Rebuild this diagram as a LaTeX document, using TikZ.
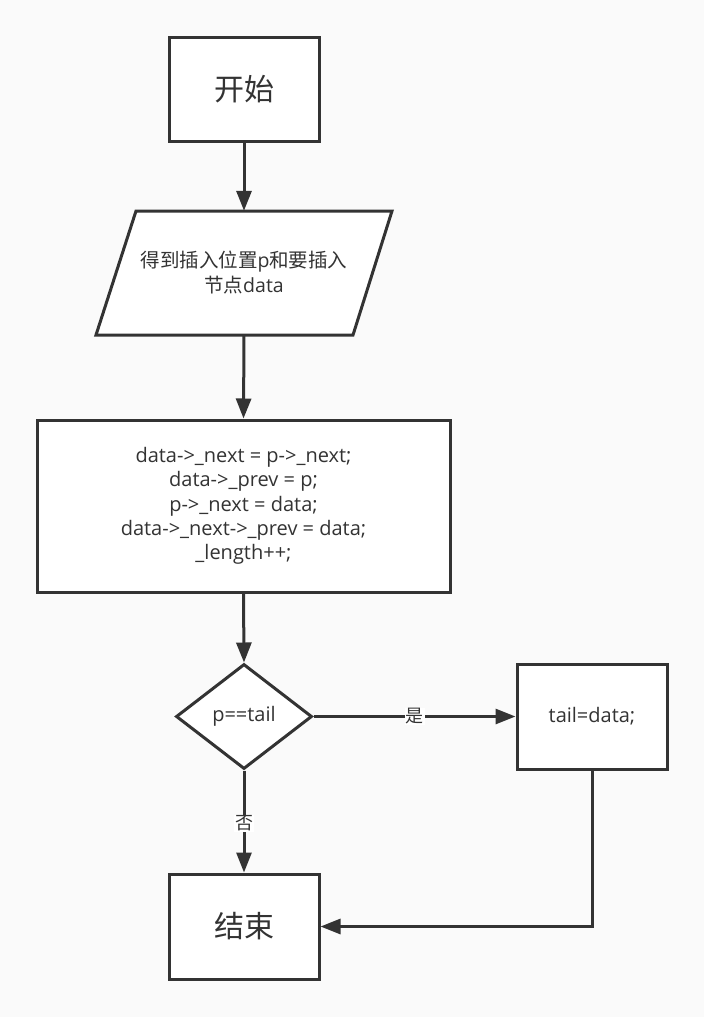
\documentclass[tikz,border=0pt]{standalone}
\usepackage{fontspec}
\setmainfont{Open Sans}
\newfontfamily\cjk{Noto Sans CJK SC}
\usetikzlibrary{arrows.meta,shapes.geometric}
\definecolor{ink}{HTML}{333333}
\definecolor{bg}{HTML}{FAFAFA}
\begin{document}
\begin{tikzpicture}[x=1pt,y=-1pt,
  box/.style={draw=ink,line width=3pt,fill=white,inner sep=0pt,text=ink,align=center,font=\fontsize{20}{24.3}\selectfont},
  bigtext/.style={font=\fontsize{30}{36}\selectfont\cjk},
  flow/.style={draw=ink,line width=3pt,-{Triangle[length=20pt,width=15pt]}},
  lbl/.style={fill=white,inner sep=1pt,text=ink,font=\fontsize{18}{20}\selectfont\cjk}]
\fill[bg] (0,0) rectangle (704,1017);
\useasboundingbox (0,0) rectangle (704,1017);
% start
\node[box,bigtext,minimum width=150pt,minimum height=104pt] (start) at (244,89) {开始};
% parallelogram
\draw[ink,line width=3pt,fill=white,line join=miter] (136,211) -- (392,211) -- (353,335) -- (96,335) -- cycle;
\node[inner sep=0pt,minimum width=257pt,minimum height=124pt,align=center,text=ink,font=\fontsize{19.5}{25}\selectfont] (input) at (244,273) {{\cjk 得到插入位置}p{\cjk 和要插入}\\{\cjk 节点}data};
% process
\node[box,minimum width=413pt,minimum height=172pt] (proc) at (243.5,506) {data->\_next = p->\_next;\\data->\_prev = p;\\p->\_next = data;\\data->\_next->\_prev = data;\\\_length++;};
% decision
\node[box,shape=diamond,aspect=1.283,minimum width=136pt,minimum height=105pt] (dec) at (244,716.5) {p==tail};
% tail box
\node[box,minimum width=150pt,minimum height=105pt] (tail) at (592,716.5) {tail=data;};
% end
\node[box,bigtext,minimum width=150pt,minimum height=105pt] (end) at (244,926.5) {结束};
% connectors
\draw[flow] (start.south) -- (input.north);
\draw[flow] (input.south) -- (proc.north);
\draw[flow] (proc.south) -- (dec.north);
\draw[flow] (dec.east) -- node[lbl,pos=0.5] {是} (tail.west);
\draw[flow] (dec.south) -- node[lbl,pos=0.52] {否} (end.north);
\draw[flow,line join=miter] (tail.south) |- (end.east);
\end{tikzpicture}
\end{document}
